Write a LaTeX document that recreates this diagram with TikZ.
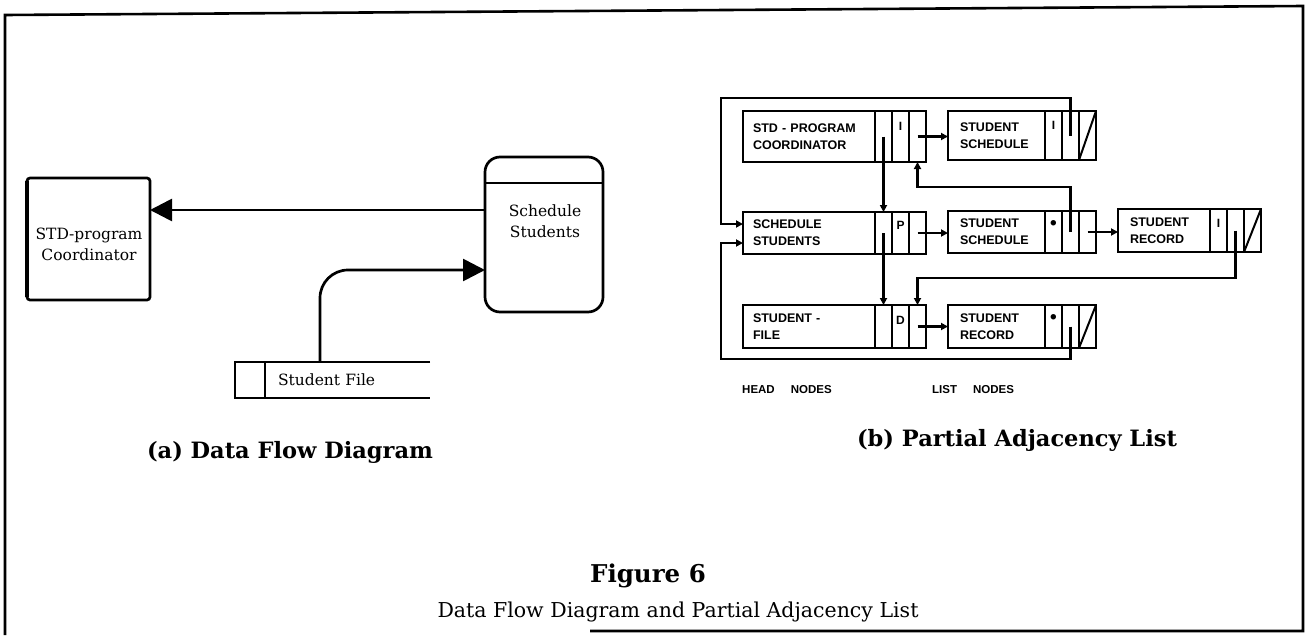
\documentclass[tikz,border=0pt]{standalone}
\usepackage{fontspec}
\setmainfont{DejaVu Serif}
\newfontfamily\lfont{Liberation Sans}
\usetikzlibrary{arrows.meta}

\begin{document}
\begin{tikzpicture}[x=1pt,y=-1pt,
  dfd/.style={line width=2.7pt},
  bigtip/.style={-{Triangle[length=22pt,width=22pt]}},
  dfdtext/.style={font=\fontsize{15.5}{21}\selectfont, inner sep=0pt},
  rec/.style={draw, line width=2pt, rectangle, anchor=north west, outer sep=0pt,
    inner xsep=10pt, inner ysep=0pt, align=left,
    font=\lfont\bfseries\fontsize{12.5}{17}\selectfont},
  fld/.style={draw, line width=2pt, rectangle, anchor=north west, outer sep=0pt,
    inner sep=0pt, minimum width=17pt},
  flab/.style={anchor=center, inner sep=0pt, font=\lfont\bfseries\fontsize{12}{12}\selectfont},
  dot/.style={anchor=center, inner sep=0pt, font=\lfont\bfseries\fontsize{19}{19}\selectfont},
  ptr/.style={line width=2.2pt, -{Triangle[length=7pt,width=7pt]}},
  nil/.style={line width=2pt},
  captext/.style={font=\bfseries\fontsize{22.5}{26}\selectfont, inner sep=0pt},
  tag/.style={font=\lfont\bfseries\fontsize{11.5}{12}\selectfont, inner sep=0pt, anchor=west},
]
\useasboundingbox (0,0) rectangle (1308,635);

% outer frame
\draw[line width=2.6pt] (590,631) -- (1303,631) -- (1303,6) -- (5,15) -- (5,635);

% ---------------- (a) data flow diagram ----------------
\node[draw, dfd, rounded corners=3pt, outer sep=0pt, minimum width=123pt, minimum height=122pt]
  (coord) at (88.5,239) {};
\draw[line width=4.5pt] ([yshift=-3pt]coord.north west) -- ([yshift=3pt]coord.south west);
\node[dfdtext, align=center] (ctxt) at (89,244) {STD-program\\Coordinator};

\node[draw, dfd, rounded corners=15pt, outer sep=0pt, minimum width=118pt, minimum height=155pt]
  (sched) at (544,234.5) {};
\draw[dfd] ([yshift=-26pt]sched.north west) -- ([yshift=-26pt]sched.north east);
\node[dfdtext, align=center] (stxt) at (545,221) {Schedule\\Students};

\node[anchor=west, outer sep=0pt, inner xsep=13pt, inner ysep=0pt, minimum height=36pt,
  text width=139pt, align=left, font=\fontsize{15.5}{21}\selectfont] (sfile) at (265,380) {Student File};
\draw[dfd] (sfile.north east) -- (sfile.north west) -- ++(-30,0) -- ++(0,36) -- (sfile.south east);
\draw[dfd] (sfile.north west) -- (sfile.south west);

\draw[dfd, bigtip] (sched.west |- 0,210) -- (coord.east |- 0,210);
\draw[dfd, bigtip, rounded corners=28pt] ([xshift=55pt]sfile.north west) -- (320,270) -- (sched.west |- 0,270);

\node[captext] (capa) at (290,452) {(a) Data Flow Diagram};

% ---------------- (b) partial adjacency list ----------------
% head nodes
\node[rec, text width=112pt, minimum height=51pt] (h1) at (743,111) {STD - PROGRAM\\COORDINATOR};
\node[fld, minimum height=51pt] (h1a) at (h1.north east) {};
\node[fld, minimum height=51pt] (h1b) at (h1a.north east) {};
\node[fld, minimum height=51pt] (h1c) at (h1b.north east) {};
\node[flab] at ([yshift=-15pt]h1b.north) {I};

\node[rec, text width=112pt, minimum height=42pt] (h2) at (743,212) {SCHEDULE\\STUDENTS};
\node[fld, minimum height=42pt] (h2a) at (h2.north east) {};
\node[fld, minimum height=42pt] (h2b) at (h2a.north east) {};
\node[fld, minimum height=42pt] (h2c) at (h2b.north east) {};
\node[flab] at ([yshift=-13pt]h2b.north) {P};

\node[rec, text width=112pt, minimum height=43pt] (h3) at (743,305) {STUDENT -\\FILE};
\node[fld, minimum height=43pt] (h3a) at (h3.north east) {};
\node[fld, minimum height=43pt] (h3b) at (h3a.north east) {};
\node[fld, minimum height=43pt] (h3c) at (h3b.north east) {};
\node[flab] at ([yshift=-15pt]h3b.north) {D};

% list nodes
\node[rec, inner xsep=12pt, text width=73pt, minimum height=49pt] (l1) at (948,111) {STUDENT\\SCHEDULE};
\node[fld, minimum height=49pt] (l1a) at (l1.north east) {};
\node[fld, minimum height=49pt] (l1b) at (l1a.north east) {};
\node[fld, minimum height=49pt] (l1c) at (l1b.north east) {};
\node[flab] at ([yshift=-14pt]l1a.north) {I};

\node[rec, inner xsep=12pt, text width=73pt, minimum height=42pt] (l2) at (948,211) {STUDENT\\SCHEDULE};
\node[fld, minimum height=42pt] (l2a) at (l2.north east) {};
\node[fld, minimum height=42pt] (l2b) at (l2a.north east) {};
\node[fld, minimum height=42pt] (l2c) at (l2b.north east) {};
\node[dot] at ([yshift=-14pt]l2a.north) {•};

\node[rec, inner xsep=12pt, text width=68pt, minimum height=43pt] (m2) at (1118,209) {STUDENT\\RECORD};
\node[fld, minimum height=43pt] (m2a) at (m2.north east) {};
\node[fld, minimum height=43pt] (m2b) at (m2a.north east) {};
\node[fld, minimum height=43pt] (m2c) at (m2b.north east) {};
\node[flab] at ([yshift=-14pt]m2a.north) {I};

\node[rec, inner xsep=12pt, text width=73pt, minimum height=43pt] (l3) at (948,305) {STUDENT\\RECORD};
\node[fld, minimum height=43pt] (l3a) at (l3.north east) {};
\node[fld, minimum height=43pt] (l3b) at (l3a.north east) {};
\node[fld, minimum height=43pt] (l3c) at (l3b.north east) {};
\node[dot] at ([yshift=-14pt]l3a.north) {•};

% null pointers
\draw[nil] (l1c.south west) -- (l1c.north east);
\draw[nil] (m2c.south west) -- (m2c.north east);
\draw[nil] (l3c.south west) -- (l3c.north east);

% head chain
\draw[ptr] (h1a.center) -- (h1a.center |- h2.north);
\draw[ptr] (h2a.center) -- (h2a.center |- h3.north);

% first list node of each head, and next list node
\draw[ptr] (h1c.center) -- (h1c.center -| l1.west);
\draw[ptr] (h2c.center) -- (h2c.center -| l2.west);
\draw[ptr] (h3c.center) -- (h3c.center -| l3.west);
\draw[ptr] (l2c.center) -- (l2c.center -| m2.west);

% vertex pointers back to head nodes
\draw[ptr] (l1b.center) -- (l1b.center |- 0,98) -- (721,98) |- ([yshift=9pt]h2.west);
\draw[ptr] (l3b.center) -- (l3b.center |- 0,359) -- (721,359) |- ([yshift=-10pt]h2.west);
\draw[ptr] (l2b.center) -- (l2b.center |- 0,187) -| (h1c.south);
\draw[ptr] (m2b.center) -- (m2b.center |- 0,278) -| (h3c.north);

\node[tag] (headtag) at (742,390) {HEAD\hspace{16pt}NODES};
\node[tag] (listtag) at (932,390) {LIST\hspace{16pt}NODES};

\node[captext] (capb) at (1017,440) {(b) Partial Adjacency List};

% figure caption
\node[captext, font=\bfseries\fontsize{24.5}{28}\selectfont] (fig) at (648,576) {Figure 6};
\node[inner sep=0pt, font=\fontsize{20.5}{24}\selectfont] (title) at (678,612) {Data Flow Diagram and Partial Adjacency List};
\end{tikzpicture}
\end{document}
